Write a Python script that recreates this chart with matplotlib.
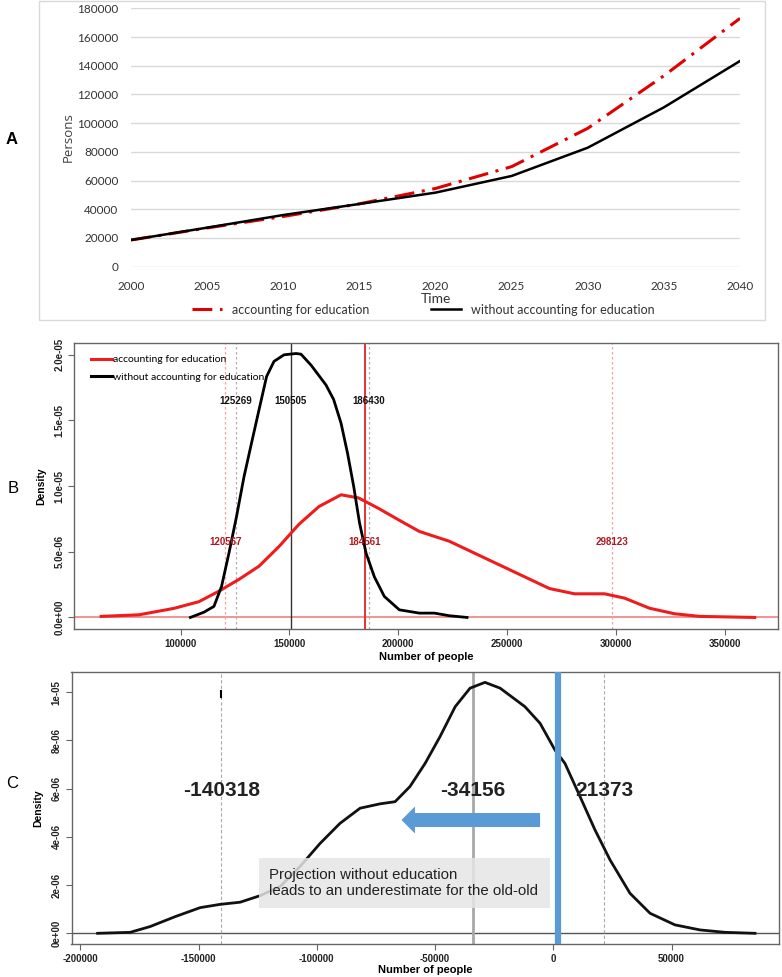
import matplotlib
matplotlib.use("Agg")
import matplotlib.pyplot as plt
from matplotlib.patches import Rectangle, FancyArrow
from matplotlib.lines import Line2D

# ---------------- data ----------------
years = [2000, 2005, 2010, 2015, 2020, 2025, 2030, 2035, 2040]
with_edu = [18600, 27000, 35000, 43800, 54500, 69700, 96400, 133000, 173000]
without_edu = [18600, 27200, 36000, 43700, 51600, 63200, 82900, 111000, 143300]

b_x_noedu = [104500, 110700, 115300, 118800, 122200, 125700, 129100, 132600, 136000,
             139500, 142900, 147500, 153000, 155300, 160000, 166800, 170300, 173700,
             176700, 179500, 182200, 185200, 189000, 193600, 200500, 209700, 216600,
             223500, 231600]
b_d_noedu = [0.0, 0.04, 0.084, 0.236, 0.49, 0.77, 1.07, 1.33, 1.58, 1.835, 1.95, 2.0,
             2.01, 2.005, 1.92, 1.77, 1.66, 1.48, 1.25, 1.0, 0.72, 0.49, 0.31, 0.16,
             0.058, 0.033, 0.033, 0.013, 0.0]  # x 1e-5
b_x_edu = [63500, 80800, 96900, 108400, 117600, 126800, 136000, 145200, 154400,
           163600, 173700, 181800, 191000, 200500, 209700, 223500, 235000, 246500,
           258000, 269500, 281000, 294800, 304000, 315500, 327000, 338500, 363800]
b_d_edu = [0.008, 0.02, 0.069, 0.12, 0.2, 0.29, 0.39, 0.54, 0.71, 0.845, 0.934, 0.91,
           0.83, 0.74, 0.655, 0.58, 0.49, 0.40, 0.31, 0.22, 0.18, 0.18, 0.147, 0.07,
           0.028, 0.008, 0.0]  # x 1e-5
b_black_marks = [125269, 150505, 186430]
b_red_marks = [120567, 184561, 298123]

c_x = [-192650, -178900, -170450, -159900, -149300, -140900, -132400, -124000, -115500,
       -107100, -98600, -90200, -81700, -73300, -66900, -60600, -54200, -47900, -41500,
       -35200, -28900, -22500, -12000, -5600, 700, 4900, 11300, 17600, 24000, 32400,
       40900, 51400, 62000, 72600, 85250]
c_d = [0.0, 0.04, 0.28, 0.69, 1.065, 1.2, 1.29, 1.56, 1.94, 2.77, 3.73, 4.56, 5.19, 5.37,
       5.46, 6.09, 7.05, 8.16, 9.40, 10.17, 10.41, 10.17, 9.40, 8.71, 7.6, 7.05, 5.67,
       4.29, 3.04, 1.66, 0.83, 0.35, 0.14, 0.04, 0.0]  # x 1e-6
c_marks = [-140318, -34156, 21373]
c_zero_line = 2000

# ---------------- figure ----------------
W, H = 782, 977
fig = plt.figure(figsize=(W / 100, H / 100), dpi=100)
XL = ['Lato', 'DejaVu Sans']
ARIAL = ['Liberation Sans', 'DejaVu Sans']


def ax_px(x0, y0, x1, y1):
    return fig.add_axes([x0 / W, 1 - y1 / H, (x1 - x0) / W, (y1 - y0) / H])


# ---------------- Panel A ----------------
fig.patches.append(Rectangle((39 / W, 1 - 320 / H), (765 - 39) / W, 319 / H,
                             transform=fig.transFigure, fill=False,
                             edgecolor='#d9d9d9', lw=1))
axA = ax_px(131, 8.3, 740, 266.7)
axA.set_xlim(2000, 2040)
axA.set_ylim(0, 180000)
for s in axA.spines.values():
    s.set_visible(False)
axA.set_yticks(range(0, 180001, 20000))
axA.set_xticks(years)
axA.grid(axis='y', color='#d9d9d9', lw=1)
axA.set_axisbelow(True)
axA.tick_params(length=0, labelsize=8.5, labelcolor='#333333')
axA.tick_params(axis='y', pad=9)
axA.tick_params(axis='x', pad=10)
for lab in axA.get_xticklabels() + axA.get_yticklabels():
    lab.set_family(XL)
lr, = axA.plot(years, with_edu, color='#e00000', lw=2.2, dashes=(6.5, 2.5, 1.0, 2.5),
               label='accounting for education')
lb, = axA.plot(years, without_edu, color='black', lw=1.8,
               label='without accounting for education')
axA.set_ylabel('Persons', family=['Open Sans', 'DejaVu Sans'], fontsize=9.5,
               color='#404040', labelpad=2)
axA.set_xlabel('Time', family=XL, fontsize=10, color='#333333', labelpad=1)
axA.legend(handles=[lr, lb], loc='upper center', bbox_to_anchor=(0.48, -0.10),
           ncol=2, frameon=False, prop={'family': XL, 'size': 9},
           handlelength=2.4, handletextpad=0.8, columnspacing=5.0,
           labelcolor='#333333')
fig.text(6 / W, 1 - 140 / H, 'A', family=ARIAL, fontsize=12, fontweight='bold',
         va='center', ha='left')


def r_style(ax):
    for s in ax.spines.values():
        s.set_color('#666666')
        s.set_linewidth(1)
    ax.tick_params(direction='out', length=4, width=0.8, color='#666666',
                   labelsize=7, pad=3)
    for lab in ax.get_xticklabels() + ax.get_yticklabels():
        lab.set_family(ARIAL)
        lab.set_fontweight('bold')
        lab.set_color('#222222')
    for lab in ax.get_yticklabels():
        lab.set_rotation(90)
        lab.set_va('center')


# ---------------- Panel B ----------------
axB = ax_px(74, 343, 778, 629)
axB.set_xlim(51000, 374500)
axB.set_ylim(-0.088e-5, 2.09e-5)
axB.axhline(0, color='#f08080', lw=1.2, zorder=1)
for v in b_red_marks[::2]:
    axB.axvline(v, color='#f4a0a0', lw=0.9, ls=(0, (2, 2)), zorder=1)
for v in [b_black_marks[0], b_black_marks[2]]:
    axB.axvline(v, color='#b0b0b0', lw=0.9, ls=(0, (2, 2)), zorder=1)
axB.axvline(b_black_marks[1], color='#333333', lw=1.0, zorder=1)
axB.axvline(b_red_marks[1], color='#e83030', lw=1.4, zorder=1)
axB.plot(b_x_edu, [d * 1e-5 for d in b_d_edu], color='#ee1c1c', lw=2.2, zorder=3)
axB.plot(b_x_noedu, [d * 1e-5 for d in b_d_noedu], color='black', lw=2.0, zorder=3)
for v in b_black_marks:
    axB.text(v, 1.65e-5, str(v), ha='center', va='center', fontsize=7,
             family=ARIAL, fontweight='bold', color='#111111', zorder=4)
for v in b_red_marks:
    axB.text(v, 0.575e-5, str(v), ha='center', va='center', fontsize=7,
             family=ARIAL, fontweight='bold', color='#b01820', zorder=4)
axB.set_xticks(range(100000, 350001, 50000))
axB.set_yticks([0, 0.5e-5, 1.0e-5, 1.5e-5, 2.0e-5],
               ['0.0e+00', '5.0e-06', '1.0e-05', '1.5e-05', '2.0e-05'])
axB.set_xticklabels([str(v) for v in range(100000, 350001, 50000)])
r_style(axB)
axB.set_xlabel('Number of people', family=ARIAL, fontweight='bold', fontsize=8,
               labelpad=2)
axB.set_ylabel('Density', family=ARIAL, fontweight='bold', fontsize=7.5, labelpad=6)
hB = [Line2D([], [], color='#ee1c1c', lw=2.2), Line2D([], [], color='black', lw=2.2)]
axB.legend(hB, ['accounting for education', 'without accounting for education'],
           loc='upper left', bbox_to_anchor=(0.018, 0.972), frameon=False,
           prop={'family': XL, 'size': 7.5}, handlelength=2.0, handletextpad=0.15,
           labelspacing=0.8, borderaxespad=0)
fig.text(8 / W, 1 - 488 / H, 'B', family=ARIAL, fontsize=12, va='center', ha='left')

# ---------------- Panel C ----------------
axC = ax_px(71.5, 672, 779, 944)
axC.set_xlim(-203700, 95400)
axC.set_ylim(-0.444e-6, 10.84e-6)
axC.axhline(0, color='#555555', lw=1.0, zorder=1)
axC.axvline(c_marks[0], color='#aaaaaa', lw=0.8, ls=(0, (3, 2)), zorder=1)
axC.axvline(c_marks[2], color='#aaaaaa', lw=0.8, ls=(0, (3, 2)), zorder=1)
axC.axvline(c_marks[1], color='#a8a8a8', lw=2.0, zorder=1)
axC.plot(c_x, [d * 1e-6 for d in c_d], color='#111111', lw=2.0, zorder=3)
axC.axvline(c_zero_line, color='#5b9bd5', lw=4.5, zorder=4)
axC.plot([c_marks[0], c_marks[0]], [9.8e-6, 10.05e-6], color='black', lw=1.5, zorder=4)
for v in c_marks:
    axC.text(v, 5.92e-6, str(v), ha='center', va='center', fontsize=15,
             family=ARIAL, fontweight='bold', color='#222222', zorder=5)
axC.add_patch(FancyArrow(-5600, 4.7e-6, -58600, 0, width=5.8e-7, head_width=1.12e-6,
                         head_length=5700, length_includes_head=True,
                         color='#5b9bd5', lw=0, zorder=5))
# annotation box
bx0 = (259 - 553.3) * 422.65
bx1 = (550 - 553.3) * 422.65
by0 = (933.3 - 908) / 48.2 * 2e-6
by1 = (933.3 - 858) / 48.2 * 2e-6
axC.add_patch(Rectangle((bx0, by0), bx1 - bx0, by1 - by0, facecolor='#e6e6e6',
                        edgecolor='none', alpha=0.85, zorder=6))
axC.text(bx0 + 10 * 422.65, (by0 + by1) / 2,
         'Projection without education\nleads to an underestimate for the old-old',
         ha='left', va='center', fontsize=10.8, family=ARIAL, color='#222222',
         linespacing=1.25, zorder=7)
axC.set_xticks(range(-200000, 50001, 50000))
axC.set_xticklabels([str(v) for v in range(-200000, 50001, 50000)])
axC.set_yticks([0, 2e-6, 4e-6, 6e-6, 8e-6, 1e-5],
               ['0e+00', '2e-06', '4e-06', '6e-06', '8e-06', '1e-05'])
r_style(axC)
axC.set_xlabel('Number of people', family=ARIAL, fontweight='bold', fontsize=8,
               labelpad=1)
axC.set_ylabel('Density', family=ARIAL, fontweight='bold', fontsize=7.5, labelpad=6)
fig.text(6 / W, 1 - 783 / H, 'C', family=ARIAL, fontsize=12, va='center', ha='left')

fig.savefig('out.png', dpi=100, facecolor='white')
